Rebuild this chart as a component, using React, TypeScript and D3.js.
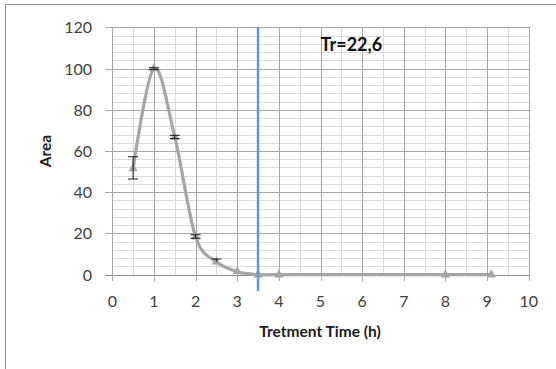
import React, { useEffect, useRef } from "react";
import * as d3 from "d3";

// values
const times = [0.5, 1, 1.5, 2, 2.5, 3, 3.5, 4, 8, 9.1];
const areas = [51.5, 100, 66.8, 18.4, 6.3, 1.5, 0, 0, 0, 0];
const errLow = [46.4, 99.5, 66.0, 17.7, 6.3, 1.5, 0, 0, 0, 0];
const errHigh = [57.2, 100.4, 67.6, 19.4, 7.6, 1.5, 0, 0, 0, 0];
const xTicks = [0, 1, 2, 3, 4, 5, 6, 7, 8, 9, 10];
const yTicks = [0, 20, 40, 60, 80, 100, 120];
const treatmentLine = 3.5;
const annotation = "Tr=22,6";

const W = 556;
const H = 369;
const FONT = "Lato, 'Open Sans', sans-serif";

export default function App() {
  const ref = useRef<SVGSVGElement>(null);

  useEffect(() => {
    const svg = d3.select(ref.current);
    svg.selectAll("*").remove();

    const x = d3.scaleLinear().domain([0, 10]).range([112.3, 528.7]);
    const y = d3.scaleLinear().domain([0, 120]).range([274.7, 27.3]);

    svg.append("rect").attr("width", W).attr("height", H).attr("fill", "#fff");

    // outer frame (only left & top visible)
    svg
      .append("path")
      .attr("d", `M5.5,${H} L5.5,4.5 L${W},4.5`)
      .attr("fill", "none")
      .attr("stroke", "#8a8a8a")
      .attr("stroke-width", 1);

    const grid = svg.append("g").attr("shape-rendering", "crispEdges");

    // minor horizontal
    const minorY = d3.range(4, 121, 4).filter((v) => v % 20 !== 0);
    grid
      .selectAll("line.my")
      .data(minorY)
      .enter()
      .append("line")
      .attr("x1", x(0))
      .attr("x2", x(10))
      .attr("y1", (d) => Math.round(y(d)) + 0.5)
      .attr("y2", (d) => Math.round(y(d)) + 0.5)
      .attr("stroke", "#d9d9d9");

    // minor vertical
    const minorX = d3.range(0.5, 10, 1);
    grid
      .selectAll("line.mx")
      .data(minorX)
      .enter()
      .append("line")
      .attr("x1", (d) => Math.round(x(d)) + 0.5)
      .attr("x2", (d) => Math.round(x(d)) + 0.5)
      .attr("y1", y(120))
      .attr("y2", y(0))
      .attr("stroke", "#d9d9d9");

    // major horizontal (with tick stubs on the left)
    grid
      .selectAll("line.Y")
      .data(yTicks)
      .enter()
      .append("line")
      .attr("x1", x(0) - 7)
      .attr("x2", x(10))
      .attr("y1", (d) => Math.round(y(d)) + 0.5)
      .attr("y2", (d) => Math.round(y(d)) + 0.5)
      .attr("stroke", (d) => (d === 0 ? "#8c8c8c" : "#a6a6a6"));

    // major vertical (with tick stubs below)
    grid
      .selectAll("line.X")
      .data(xTicks)
      .enter()
      .append("line")
      .attr("x1", (d) => Math.round(x(d)) + 0.5)
      .attr("x2", (d) => Math.round(x(d)) + 0.5)
      .attr("y1", y(120))
      .attr("y2", y(0) + 6)
      .attr("stroke", "#a6a6a6");

    // tick labels
    svg
      .append("g")
      .selectAll("text")
      .data(yTicks)
      .enter()
      .append("text")
      .attr("x", 92)
      .attr("y", (d) => y(d) + 6)
      .attr("text-anchor", "end")
      .attr("font-family", FONT)
      .attr("font-size", 16)
      .attr("fill", "#404040")
      .text((d) => d);

    svg
      .append("g")
      .selectAll("text")
      .data(xTicks)
      .enter()
      .append("text")
      .attr("x", (d) => x(d))
      .attr("y", 307)
      .attr("text-anchor", "middle")
      .attr("font-family", FONT)
      .attr("font-size", 16)
      .attr("fill", "#404040")
      .text((d) => d);

    // axis titles
    svg
      .append("text")
      .attr("x", 320)
      .attr("y", 337)
      .attr("text-anchor", "middle")
      .attr("font-family", FONT)
      .attr("font-weight", "bold")
      .attr("font-size", 15.5)
      .attr("fill", "#1a1a1a")
      .text("Tretment Time (h)");

    svg
      .append("text")
      .attr("transform", "translate(50.5,151) rotate(-90)")
      .attr("text-anchor", "middle")
      .attr("font-family", FONT)
      .attr("font-weight", "bold")
      .attr("font-size", 15.5)
      .attr("fill", "#1a1a1a")
      .text("Area");

    // smoothed series
    const pts = times.map((t, i) => [t, areas[i]] as [number, number]);
    const line = d3
      .line<[number, number]>()
      .x((d) => x(d[0]))
      .y((d) => y(d[1]))
      .curve(d3.curveCardinal.tension(0));

    svg
      .append("path")
      .attr("d", line(pts))
      .attr("fill", "none")
      .attr("stroke", "#a5a5a5")
      .attr("stroke-width", 3.2)
      .attr("stroke-linejoin", "round");

    // markers
    const tri = d3.symbol().type(d3.symbolTriangle).size(38);
    svg
      .append("g")
      .selectAll("path")
      .data(pts)
      .enter()
      .append("path")
      .attr("transform", (d) => `translate(${x(d[0])},${y(d[1])})`)
      .attr("d", tri())
      .attr("fill", "#a5a5a5");

    // error bars
    const eb = svg.append("g").attr("stroke", "#1a1a1a").attr("stroke-width", 1);
    times.forEach((t, i) => {
      if (errHigh[i] - errLow[i] <= 0) return;
      const cx = x(t);
      eb.append("line")
        .attr("x1", cx)
        .attr("x2", cx)
        .attr("y1", y(errLow[i]))
        .attr("y2", y(errHigh[i]));
      [errLow[i], errHigh[i]].forEach((v) => {
        if (v === areas[i]) return;
        eb.append("line")
          .attr("x1", cx - 5)
          .attr("x2", cx + 5)
          .attr("y1", y(v))
          .attr("y2", y(v));
      });
    });

    // treatment time marker line
    svg
      .append("line")
      .attr("x1", x(treatmentLine))
      .attr("x2", x(treatmentLine))
      .attr("y1", y(120))
      .attr("y2", 291)
      .attr("stroke", "#5b9bd5")
      .attr("stroke-width", 2.5);

    svg
      .append("text")
      .attr("x", 320.5)
      .attr("y", 51)
      .attr("font-family", FONT)
      .attr("font-weight", "bold")
      .attr("font-size", 18)
      .attr("fill", "#111")
      .text(annotation);
  }, []);

  return (
    <svg
      ref={ref}
      width={W}
      height={H}
      style={{ position: "absolute", left: 0, top: 0, display: "block" }}
    />
  );
}
